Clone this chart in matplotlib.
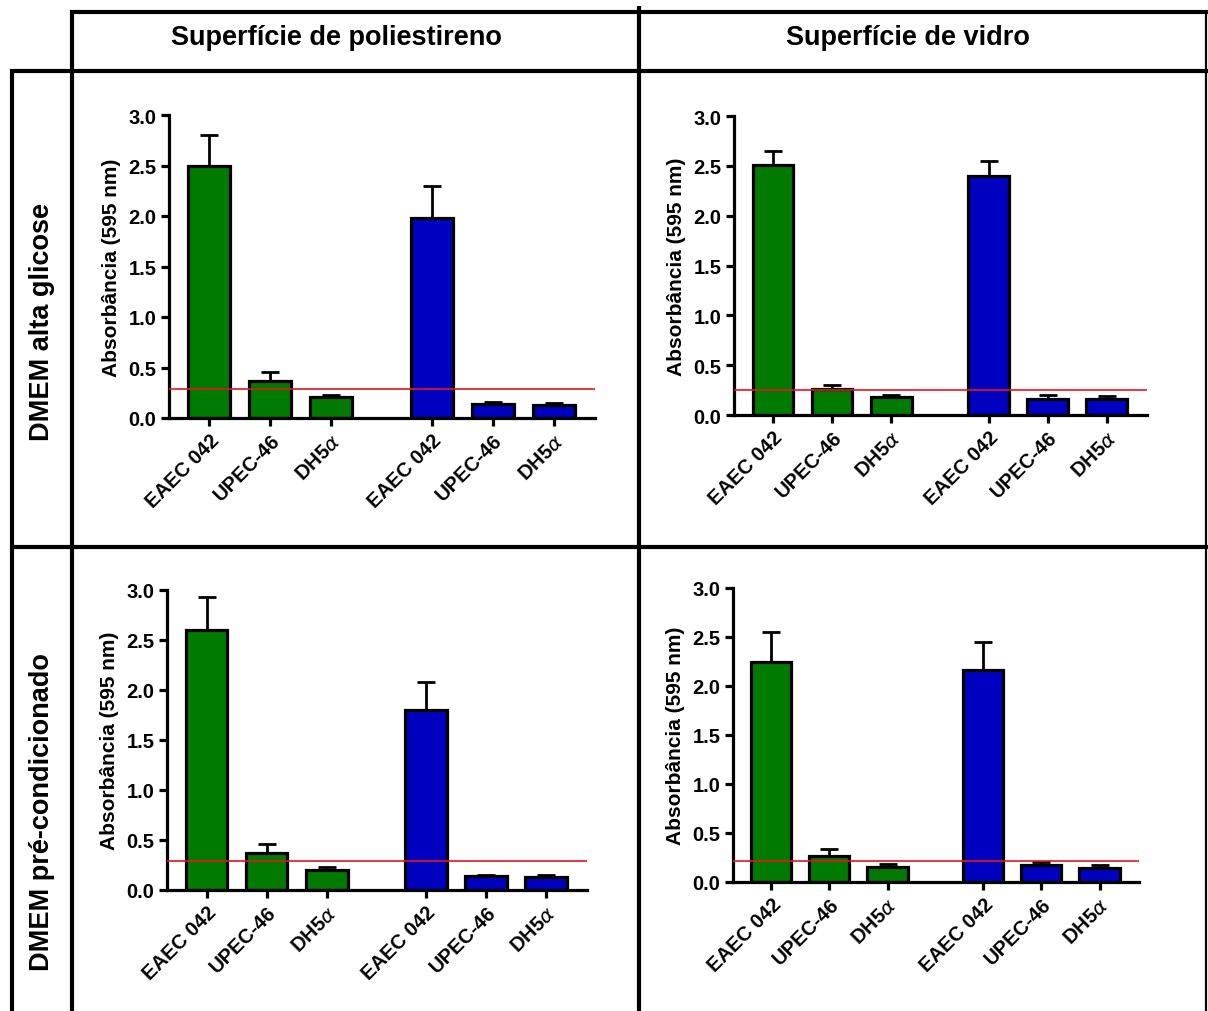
import matplotlib
matplotlib.use("Agg")
import matplotlib.pyplot as plt
from matplotlib.lines import Line2D
import numpy as np

plt.rcParams['font.family'] = ['Liberation Sans', 'DejaVu Sans']
plt.rcParams['mathtext.fontset'] = 'dejavusans'

# Data
strains = ["EAEC 042", "UPEC-46", "DH5$\\alpha$", "EAEC 042", "UPEC-46", "DH5$\\alpha$"]
col_titles = ["Superfície de poliestireno", "Superfície de vidro"]
row_titles = ["DMEM alta glicose", "DMEM pré-condicionado"]

# mean absorbance per strain (green group, then blue group)
means_glic_poli = [2.50, 0.37, 0.21, 1.98, 0.14, 0.13]
err_glic_poli = [0.30, 0.085, 0.02, 0.32, 0.02, 0.015]
cutoff_glic_poli = 0.29

means_glic_vidro = [2.51, 0.26, 0.18, 2.40, 0.16, 0.16]
err_glic_vidro = [0.14, 0.04, 0.02, 0.15, 0.04, 0.03]
cutoff_glic_vidro = 0.25

means_pre_poli = [2.60, 0.37, 0.20, 1.80, 0.14, 0.13]
err_pre_poli = [0.33, 0.09, 0.03, 0.28, 0.015, 0.02]
cutoff_pre_poli = 0.29

means_pre_vidro = [2.25, 0.27, 0.15, 2.16, 0.17, 0.14]
err_pre_vidro = [0.30, 0.07, 0.03, 0.29, 0.03, 0.03]
cutoff_pre_vidro = 0.21

positions = [0, 1, 2, 3.65, 4.65, 5.65]
bar_colors = ["#007A00"] * 3 + ["#0000C0"] * 3

W, H = 1208, 1012
fig = plt.figure(figsize=(W / 100, H / 100), dpi=100)


def fx(px):
    return px / W


def fy(py):
    return 1 - py / H


def panel(box, means, errs, cutoff):
    left, right, top, bottom = box
    ax = fig.add_axes([fx(left), fy(bottom), fx(right - left), (bottom - top) / H])
    ax.bar(positions, means, width=0.69, color=bar_colors, edgecolor="black",
           linewidth=2.3, zorder=2)
    ax.errorbar(positions, means, yerr=[np.zeros(len(errs)), errs], fmt="none",
                ecolor="black", elinewidth=2.0, capsize=6.5, capthick=2.0, zorder=3)
    ax.axhline(cutoff, color="#e8141c", linewidth=1.2, zorder=4)
    ax.set_ylim(0, 3.0)
    ax.set_xlim(-0.66, 6.33)
    ax.set_yticks(np.arange(0, 3.01, 0.5))
    ax.set_yticklabels([f"{v:.1f}" for v in np.arange(0, 3.01, 0.5)],
                       fontsize=14.5, fontweight="bold")
    ax.set_xticks(positions)
    ax.set_xticklabels(strains, rotation=45, ha="right", rotation_mode="anchor",
                       fontsize=14.5, fontweight="bold")
    ax.set_ylabel("Absorbância (595 nm)", fontsize=15, fontweight="bold", labelpad=5)
    for s in ("top", "right"):
        ax.spines[s].set_visible(False)
    for s in ("left", "bottom"):
        ax.spines[s].set_linewidth(2.3)
    ax.tick_params(axis="both", direction="out", length=6, width=2.3, pad=3)
    ax.patch.set_alpha(0)
    return ax


panel((169, 595, 116, 419), means_glic_poli, err_glic_poli, cutoff_glic_poli)
panel((734, 1147, 117, 416), means_glic_vidro, err_glic_vidro, cutoff_glic_vidro)
panel((167, 587, 591, 891), means_pre_poli, err_pre_poli, cutoff_pre_poli)
panel((733, 1139, 589, 883), means_pre_vidro, err_pre_vidro, cutoff_pre_vidro)


# table frame
def hline(y, x0, x1, lw=3.0):
    fig.add_artist(Line2D([fx(x0), fx(x1)], [fy(y), fy(y)], color="black",
                          linewidth=lw, solid_capstyle="butt"))


def vline(x, y0, y1, lw=3.0):
    fig.add_artist(Line2D([fx(x), fx(x)], [fy(y0), fy(y1)], color="black",
                          linewidth=lw, solid_capstyle="butt"))


hline(13, 70, W)
hline(72, 10, W)
hline(548, 10, W)
vline(72, 11, H)
vline(639, 7, H)
vline(12, 70, H)
vline(1206, 13, H, lw=1.6)

# column and row headings
fig.text(fx(336), fy(38), col_titles[0], ha="center", va="center",
         fontsize=19.5, fontweight="bold")
fig.text(fx(908), fy(38), col_titles[1], ha="center", va="center",
         fontsize=19.5, fontweight="bold")
fig.text(fx(42), fy(322), row_titles[0], ha="center", va="center",
         rotation=90, fontsize=19.5, fontweight="bold")
fig.text(fx(42), fy(812), row_titles[1], ha="center", va="center",
         rotation=90, fontsize=19.5, fontweight="bold")

fig.savefig("out.png", dpi=100)
